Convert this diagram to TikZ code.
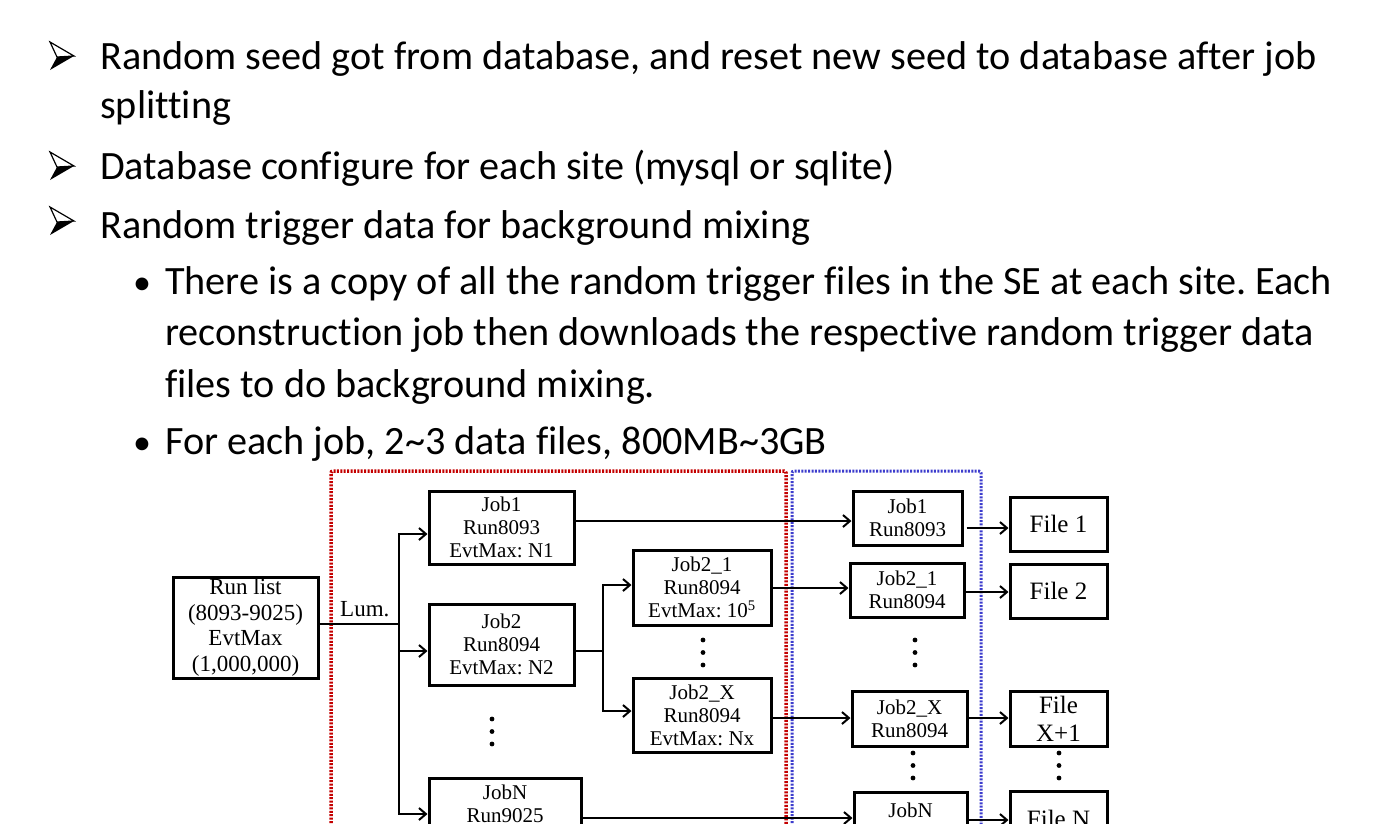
\documentclass[tikz,border=0pt]{standalone}
\usepackage{fontspec}
\setmainfont{Liberation Serif}
\newfontfamily\bodyfont{Carlito}[Ligatures=NoCommon]
\usetikzlibrary{arrows.meta,calc}
\frenchspacing

\definecolor{framered}{RGB}{196,0,0}
\definecolor{frameblue}{RGB}{60,60,205}

\begin{document}
\begin{tikzpicture}[x=1pt,y=-1pt,
  bodytext/.style={anchor=base west, inner sep=0pt, font=\bodyfont\fontsize{40.2}{48}\selectfont},
  dotbullet/.style={anchor=base west, inner sep=0pt, font=\bodyfont\fontsize{36}{40}\selectfont},
  arrowmark/.pic={
    \fill[black] (-5,1) -- (12,0) -- (-12,14) -- cycle;
    \filldraw[fill=white, draw=black, line width=1.2pt, line join=miter] (-12,-14) -- (12,0) -- (-5,1) -- cycle;
  },
  box/.style={draw, line width=3pt, inner sep=0pt, align=center},
  jobfont/.style={font=\fontsize{21}{23}\selectfont},
  filefont/.style={font=\fontsize{25}{28}\selectfont},
  plaintext/.style={inner sep=0pt, align=center},
  conn/.style={line width=2pt},
  arr/.style={line width=2pt, -{Straight Barb[length=7pt,width=12pt,line width=2pt]}},
  redframe/.style={draw=framered, line width=3.5pt, dash pattern=on 2pt off 1.4pt},
  blueframe/.style={draw=frameblue, line width=3pt, dash pattern=on 2pt off 1.4pt},
  vdot/.style={fill=black}
]
\useasboundingbox (0,0) rectangle (1376,823);
\clip (0,0) rectangle (1376,823);
\fill[white] (0,0) rectangle (1376,823);

% ---------- bullet list ----------
\pic at (62,56) {arrowmark};
\node[bodytext] (t1) at (100,69) {Random seed got from database, and reset new seed to database after job};
\node[bodytext] (t1b) at (100,118) {splitting};
\pic at (62,166) {arrowmark};
\node[bodytext] (t2) at (100,179) {Database configure for each site (mysql or sqlite)};
\pic at (62,221) {arrowmark};
\node[bodytext] (t3) at (100,238) {Random trigger data for background mixing};
\node[dotbullet] (s1) at (133,294) {•};
\node[bodytext] (u1) at (165,294) {There is a copy of all the random trigger files in the SE at each site. Each};
\node[bodytext] (u1b) at (165,345) {reconstruction job then downloads the respective random trigger data};
\node[bodytext] (u1c) at (165,397) {files to do background mixing.};
\node[dotbullet] (s2) at (133,454) {•};
\node[bodytext] (u2) at (165,454) {For each job, 2\textasciitilde3 data files, 800MB\textasciitilde3GB};

% ---------- dotted frames ----------
\draw[redframe, rounded corners=2pt] (331,840) -- (331,471) -- (786,471) -- (786,840);
\draw[blueframe, rounded corners=2pt] (792,840) -- (792,471) -- (981,471) -- (981,840);

% ---------- boxes ----------
\node[box, minimum width=145, minimum height=101, font=\fontsize{23}{25.5}\selectfont]
  (runlist) at (245.5,627.5) {Run list\\(8093-9025)\\EvtMax\\(1,000,000)};
\node[plaintext, anchor=base west, font=\fontsize{23}{25}\selectfont] (lum) at (340,616) {Lum.};

\node[box, jobfont, minimum width=145, minimum height=73] (job1) at (501.5,527.5) {Job1\\Run8093\\EvtMax: N1};
\node[box, jobfont, minimum width=145, minimum height=81] (job2) at (501.5,644.5) {Job2\\Run8094\\EvtMax: N2};
\node[box, minimum width=152, minimum height=81] (jobn) at (505,818.5) {};
\node[plaintext, jobfont] (jobntxt) at (505,803.5) {JobN\\Run9025};

\node[box, jobfont, minimum width=138, minimum height=75] (job21) at (702,587.5) {Job2\_1\\Run8094\\EvtMax: 10\textsuperscript{5}};
\node[box, jobfont, minimum width=138, minimum height=74] (job2x) at (702,715) {Job2\_X\\Run8094\\EvtMax: Nx};

\node[box, jobfont, minimum width=109, minimum height=54] (job1r) at (907.5,518) {Job1\\Run8093};
\node[box, jobfont, minimum width=114, minimum height=54] (job21r) at (907,590) {Job2\_1\\Run8094};
\node[box, jobfont, minimum width=115, minimum height=55] (job2xr) at (909.5,718.5) {Job2\_X\\Run8094};
\node[box, minimum width=113, minimum height=55] (jobnr) at (910.5,819.5) {};
\node[plaintext, jobfont] (jobnrtxt) at (910.5,810) {JobN};

\node[box, filefont, minimum width=97, minimum height=54] (file1) at (1058.5,524) {File 1};
\node[box, filefont, minimum width=97, minimum height=54] (file2) at (1058.5,591) {File 2};
\node[box, filefont, minimum width=97, minimum height=55] (filex) at (1058.5,718.5) {File\\X+1};
\node[box, filefont, minimum width=97, minimum height=55] (filen) at (1058.5,818.5) {File N};

% ---------- connectors ----------
\coordinate (lumsplit) at (399,624);
\draw[conn] (runlist.east |- lumsplit) -- (lumsplit);
\draw[arr] (lumsplit) |- ($(job1.west)+(0,6.5)$);
\draw[arr] (lumsplit) |- ($(job2.west)+(0,6.5)$);
\draw[arr] (lumsplit) |- ($(jobn.west)+(0,-4.5)$);

\coordinate (j2split) at (603,651);
\draw[conn] (job2.east |- j2split) -- (j2split);
\draw[arr] (j2split) |- ($(job21.west)+(0,-2.5)$);
\draw[arr] (j2split) |- ($(job2x.west)+(0,-4)$);

\coordinate (row1) at (0,521);
\coordinate (row1b) at (0,528);
\coordinate (row2) at (0,588);
\coordinate (row2b) at (0,592);
\coordinate (rowx) at (0,718);
\coordinate (rown) at (0,818);
\coordinate (rownb) at (0,820);

\draw[arr] (job1.east |- row1) -- (job1r.west |- row1);
\draw[arr] ($(job1r.east |- row1b)+(3,0)$) -- (file1.west |- row1b);
\draw[arr] (job21.east |- row2) -- (job21r.west |- row2);
\draw[arr] (job21r.east |- row2b) -- (file2.west |- row2b);
\draw[arr] (job2x.east |- rowx) -- (job2xr.west |- rowx);
\draw[arr] (job2xr.east |- rowx) -- (filex.west |- rowx);
\draw[arr] (jobn.east |- rown) -- (jobnr.west |- rown);
\draw[arr] (jobnr.east |- rownb) -- (filen.west |- rownb);

% ---------- vertical ellipses ----------
\foreach \cx/\cy in {492/719, 703/640, 915/640, 913/753, 1059/753}{
  \fill[vdot] (\cx,\cy) circle (2.4);
  \fill[vdot] (\cx,\cy+12.5) circle (2.4);
  \fill[vdot] (\cx,\cy+25) circle (2.4);
}
\end{tikzpicture}
\end{document}
